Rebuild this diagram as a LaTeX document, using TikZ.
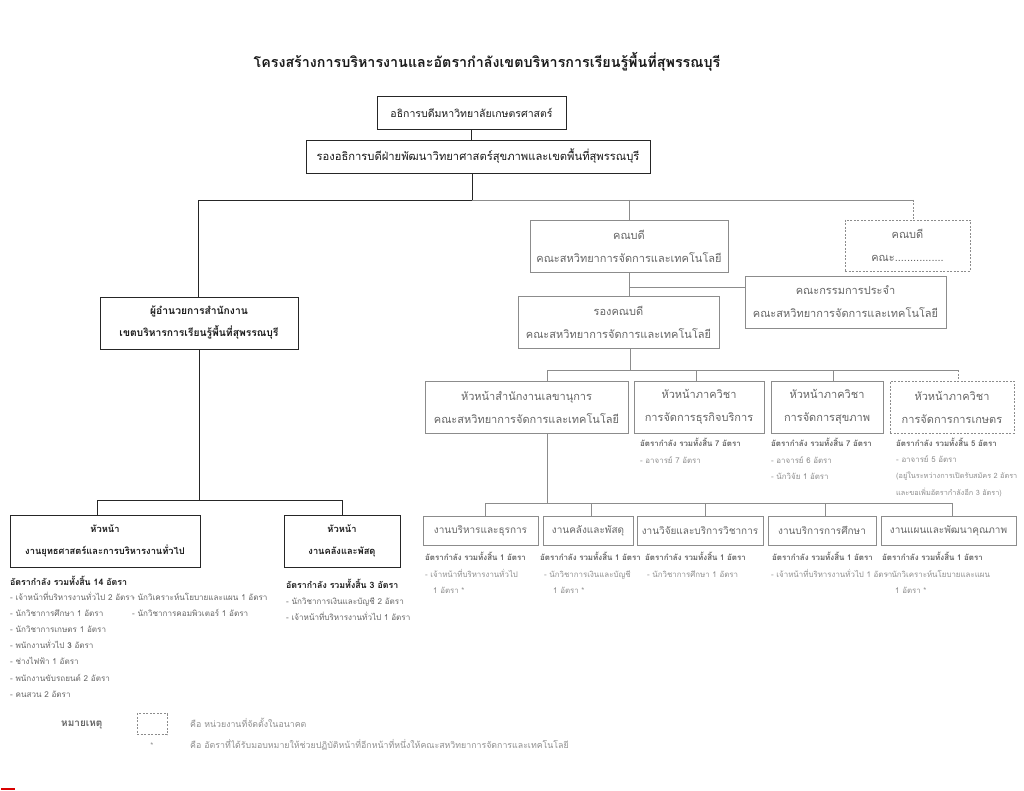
\documentclass[tikz,border=0pt]{standalone}
\usepackage{fontspec}
\setmainfont[Script=Thai]{Loma}
\definecolor{gline}{HTML}{8C8C8C}
\definecolor{gtext}{HTML}{666666}
\definecolor{ltext}{HTML}{8E8E8E}
\definecolor{btext}{HTML}{1A1A1A}
\begin{document}
\begin{tikzpicture}[x=1pt,y=-1pt,
  bbox/.style={draw=black!85, line width=0.8pt, align=center, inner sep=0pt, text=btext, font=\fontsize{11}{22}\selectfont},
  gbox/.style={draw=gline, line width=0.8pt, align=center, inner sep=0pt, text=gtext, font=\fontsize{11}{23}\selectfont},
  ubox/.style={gbox, font=\fontsize{10}{12}\selectfont},
  fbox/.style={gbox, dash pattern=on 2pt off 1.5pt},
  bline/.style={draw=black!85, line width=0.8pt},
  gl/.style={draw=gline, line width=0.8pt},
  fl/.style={gl, dash pattern=on 2pt off 1.5pt},
  lst/.style={anchor=base west, inner sep=0pt, font=\fontsize{7.9}{10}\selectfont, text=ltext},
  hdr/.style={anchor=base west, inner sep=0pt, font=\fontsize{7.9}{10}\selectfont\bfseries, text=gtext},
  llst/.style={anchor=base west, inner sep=0pt, font=\fontsize{8.1}{10}\selectfont, text=gtext},
  bhdr/.style={anchor=base west, inner sep=0pt, font=\fontsize{8.8}{10}\selectfont\bfseries, text=btext}
]
\fill[white] (0,0) rectangle (1024,791);
\useasboundingbox (0,0) rectangle (1024,791);

% title
\node[font=\fontsize{14.3}{18}\selectfont\bfseries, text=btext, inner sep=0pt] (title) at (487,62) {โครงสร้างการบริหารงานและอัตรากำลังเขตบริหารการเรียนรู้พื้นที่สุพรรณบุรี};

% top boxes
\node[bbox, minimum width=189pt, minimum height=33pt, font=\fontsize{10.5}{12}\selectfont] (rector) at (471.5,112.5) {อธิการบดีมหาวิทยาลัยเกษตรศาสตร์};
\node[bbox, minimum width=344pt, minimum height=33pt, font=\fontsize{11.2}{12}\selectfont] (vp) at (478,156.5) {รองอธิการบดีฝ่ายพัฒนาวิทยาศาสตร์สุขภาพและเขตพื้นที่สุพรรณบุรี};

% left branch
\node[bbox, minimum width=198pt, minimum height=52pt, font=\fontsize{10.3}{22}\selectfont\bfseries] (dir) at (199,323) {ผู้อำนวยการสำนักงาน\\เขตบริหารการเรียนรู้พื้นที่สุพรรณบุรี};
\node[bbox, minimum width=190pt, minimum height=52pt, font=\fontsize{9.3}{22}\selectfont\bfseries] (strat) at (105,541) {หัวหน้า\\งานยุทธศาสตร์และการบริหารงานทั่วไป};
\node[bbox, minimum width=116pt, minimum height=52pt, font=\fontsize{9.3}{22}\selectfont\bfseries] (fin) at (342,541) {หัวหน้า\\งานคลังและพัสดุ};

% faculty branch
\node[gbox, minimum width=198pt, minimum height=52pt] (dean) at (629,246) {คณบดี\\คณะสหวิทยาการจัดการและเทคโนโลยี};
\node[fbox, minimum width=125pt, minimum height=51pt] (dean2) at (907.5,245.5) {คณบดี\\คณะ................};
\node[gbox, minimum width=201pt, minimum height=52pt] (board) at (845.5,302) {คณะกรรมการประจำ\\คณะสหวิทยาการจัดการและเทคโนโลยี};
\node[gbox, minimum width=201pt, minimum height=52pt] (vdean) at (618.5,322) {รองคณบดี\\คณะสหวิทยาการจัดการและเทคโนโลยี};

\node[gbox, minimum width=203pt, minimum height=52pt] (sec) at (526.5,407) {หัวหน้าสำนักงานเลขานุการ\\คณะสหวิทยาการจัดการและเทคโนโลยี};
\node[gbox, minimum width=130pt, minimum height=52pt] (dp1) at (699,407) {หัวหน้าภาควิชา\\การจัดการธุรกิจบริการ};
\node[gbox, minimum width=112pt, minimum height=52pt] (dp2) at (827,407) {หัวหน้าภาควิชา\\การจัดการสุขภาพ};
\node[fbox, minimum width=124pt, minimum height=52pt] (dp3) at (952,407) {หัวหน้าภาควิชา\\การจัดการการเกษตร};

\node[ubox, minimum width=115pt, minimum height=29pt] (u1) at (480.5,530.5) {งานบริหารและธุรการ};
\node[ubox, minimum width=90pt, minimum height=29pt] (u2) at (588,530.5) {งานคลังและพัสดุ};
\node[ubox, minimum width=126pt, minimum height=29pt] (u3) at (700,530.5) {งานวิจัยและบริการวิชาการ};
\node[ubox, minimum width=108pt, minimum height=29pt] (u4) at (822,530.5) {งานบริการการศึกษา};
\node[ubox, minimum width=135pt, minimum height=29pt] (u5) at (948.5,530.5) {งานแผนและพัฒนาคุณภาพ};

% connectors
\coordinate (J0) at (472,200);
\coordinate (JL) at (198,200);
\coordinate (JR) at (913,200);
\coordinate (JD) at (629,200);
\draw[bline] (rector.south) -- (rector.south |- vp.north);
\draw[bline] (J0 |- vp.south) -- (J0) -- (JL) -- (JL |- dir.north);
\draw[gl] (J0) -- (JR);
\draw[gl] (JD) -- (dean.north);
\draw[fl] (JR) -- (JR |- dean2.north);
\draw[gl] (dean.south) -- (dean.south |- vdean.north);
\coordinate (K) at (629,287);
\draw[gl] (K) -- (K -| board.west);

\coordinate (M) at (630,370);
\coordinate (M1) at (547,370);
\coordinate (M2) at (696,370);
\coordinate (M3) at (833,370);
\coordinate (M4) at (958,370);
\draw[gl] (M |- vdean.south) -- (M);
\draw[gl] (M1 |- sec.north) -- (M1) -- (M4);
\draw[gl] (M2) -- (M2 |- dp1.north);
\draw[gl] (M3) -- (M3 |- dp2.north);
\draw[fl] (M4) -- (M4 |- dp3.north);

\coordinate (B) at (547,503);
\coordinate (B1) at (485,503);
\coordinate (B2) at (591,503);
\coordinate (B3) at (705,503);
\coordinate (B4) at (825,503);
\coordinate (B5) at (952,503);
\draw[gl] (B |- sec.south) -- (B);
\draw[gl] (B1 |- u1.north) -- (B1) -- (B5) -- (B5 |- u5.north);
\draw[gl] (B2) -- (B2 |- u2.north);
\draw[gl] (B3) -- (B3 |- u3.north);
\draw[gl] (B4) -- (B4 |- u4.north);

\coordinate (L) at (199,500);
\coordinate (L1) at (97,500);
\coordinate (L2) at (342,500);
\draw[bline] (dir.south) -- (L);
\draw[bline] (L1 |- strat.north) -- (L1) -- (L2) -- (L2 |- fin.north);

% left lists
\node[bhdr] (sh) at (10,585) {อัตรากำลัง รวมทั้งสิ้น 14 อัตรา};
\node[llst] (s1) at (10,600) {- เจ้าหน้าที่บริหารงานทั่วไป 2 อัตรา};
\node[llst] (s2) at (10,616) {- นักวิชาการศึกษา 1 อัตรา};
\node[llst] (s3) at (10,632.5) {- นักวิชาการเกษตร 1 อัตรา};
\node[llst] (s4) at (10,648.5) {- พนักงานทั่วไป \textbf{3} อัตรา};
\node[llst] (s5) at (10,664.5) {- ช่างไฟฟ้า 1 อัตรา};
\node[llst] (s6) at (10,681) {- พนักงานขับรถยนต์ 2 อัตรา};
\node[llst] (s7) at (10,697) {- คนสวน 2 อัตรา};
\node[llst] (s8) at (132,600) {- นักวิเคราะห์นโยบายและแผน 1 อัตรา};
\node[llst] (s9) at (132,616) {- นักวิชาการคอมพิวเตอร์ 1 อัตรา};

\node[bhdr] (fh) at (286,588) {อัตรากำลัง รวมทั้งสิ้น 3 อัตรา};
\node[llst] (f1) at (286,604) {- นักวิชาการเงินและบัญชี 2 อัตรา};
\node[llst] (f2) at (286,620) {- เจ้าหน้าที่บริหารงานทั่วไป 1 อัตรา};

% department lists
\node[hdr] (d1h) at (640,446) {อัตรากำลัง รวมทั้งสิ้น 7 อัตรา};
\node[lst] (d1a) at (640,463) {- อาจารย์ 7 อัตรา};
\node[hdr] (d2h) at (771,446) {อัตรากำลัง รวมทั้งสิ้น 7 อัตรา};
\node[lst] (d2a) at (771,463) {- อาจารย์ 6 อัตรา};
\node[lst] (d2b) at (771,479) {- นักวิจัย 1 อัตรา};
\node[hdr] (d3h) at (896,446) {อัตรากำลัง รวมทั้งสิ้น 5 อัตรา};
\node[lst] (d3a) at (896,462) {- อาจารย์ 5 อัตรา};
\node[lst, font=\fontsize{7.3}{10}\selectfont] (d3b) at (896,478) {(อยู่ในระหว่างการเปิดรับสมัคร 2 อัตรา};
\node[lst, font=\fontsize{7.3}{10}\selectfont] (d3c) at (896,495) {และขอเพิ่มอัตรากำลังอีก 3 อัตรา)};

% unit lists
\node[hdr] (u1h) at (425,560) {อัตรากำลัง รวมทั้งสิ้น 1 อัตรา};
\node[lst] (u1a) at (425,577) {- เจ้าหน้าที่บริหารงานทั่วไป};
\node[lst] (u1b) at (433,593) {1 อัตรา *};
\node[hdr] (u2h) at (540,560) {อัตรากำลัง รวมทั้งสิ้น 1 อัตรา};
\node[lst] (u2a) at (544,577) {- นักวิชาการเงินและบัญชี};
\node[lst] (u2b) at (553,593) {1 อัตรา *};
\node[hdr] (u3h) at (645,560) {อัตรากำลัง รวมทั้งสิ้น 1 อัตรา};
\node[lst] (u3a) at (647,577) {- นักวิชาการศึกษา 1 อัตรา};
\node[hdr] (u4h) at (772,560) {อัตรากำลัง รวมทั้งสิ้น 1 อัตรา};
\node[lst] (u4a) at (771,577) {- เจ้าหน้าที่บริหารงานทั่วไป 1 อัตรา};
\node[hdr] (u5h) at (882,560) {อัตรากำลัง รวมทั้งสิ้น 1 อัตรา};
\node[lst] (u5a) at (886,577) {- นักวิเคราะห์นโยบายและแผน};
\node[lst] (u5b) at (895,593) {1 อัตรา *};

% legend
\node[anchor=base west, inner sep=0pt, font=\fontsize{10}{12}\selectfont\bfseries, text=gtext] (note) at (61,726) {หมายเหตุ};
\node[fbox, minimum width=30pt, minimum height=21pt] (legbox) at (152,724) {};
\node[lst, font=\fontsize{8.8}{10}\selectfont] (leg1) at (190,727) {คือ หน่วยงานที่จัดตั้งในอนาคต};
\node[lst, anchor=base] (legstar) at (152,748) {*};
\node[lst, font=\fontsize{8.8}{10}\selectfont] (leg2) at (190,748) {คือ อัตราที่ได้รับมอบหมายให้ช่วยปฏิบัติหน้าที่อีกหน้าที่หนึ่งให้คณะสหวิทยาการจัดการและเทคโนโลยี};

\fill[red!85!black] (1,788) rectangle (15,790);
\end{tikzpicture}
\end{document}
